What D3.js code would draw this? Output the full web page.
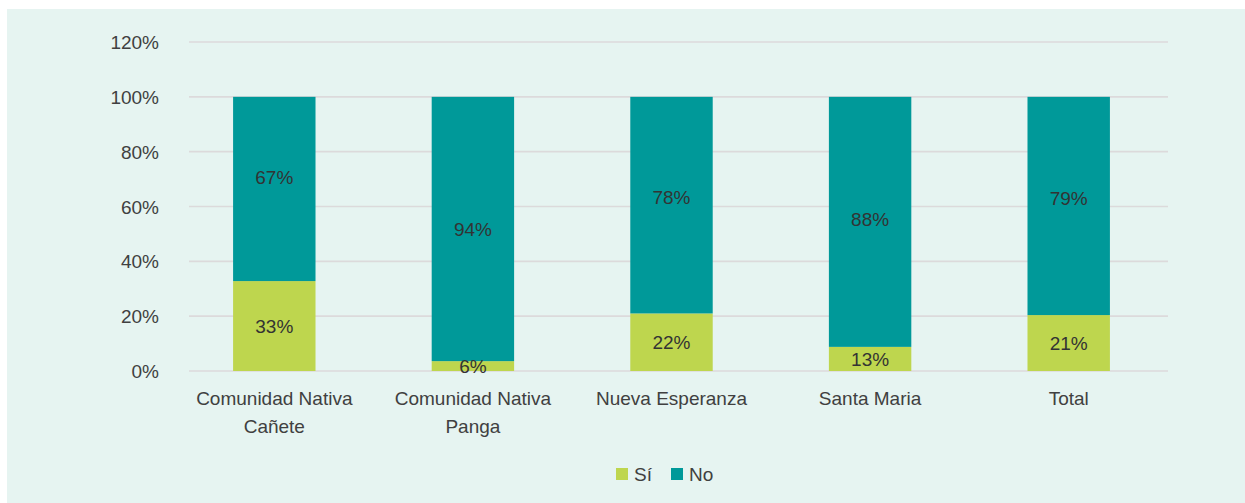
<!DOCTYPE html>
<html>
<head>
<meta charset="utf-8">
<script src="https://cdn.jsdelivr.net/npm/d3@7"></script>
<style>
  html, body { margin: 0; padding: 0; background: #ffffff; }
  svg { display: block; }
  text { font-family: "Liberation Sans", Arial, sans-serif; }
</style>
</head>
<body>
<svg id="chart" width="1245" height="503"></svg>
<script>
// ---- data ----
const categories = [["Comunidad Nativa", "Cañete"], ["Comunidad Nativa", "Panga"], ["Nueva Esperanza"], ["Santa Maria"], ["Total"]];
const siValues = [32.8, 3.6, 21.0, 8.8, 20.4];        // drawn height of "Sí" segment (%)
const noValues = [67.2, 96.4, 79.0, 91.2, 79.6];      // drawn height of "No" segment (%)
const siLabels = ["33%", "6%", "22%", "13%", "21%"];
const noLabels = ["67%", "94%", "78%", "88%", "79%"];
const noLabelAt = [70.5, 51.8, 63.4, 55.4, 63.1];     // where the "No" labels sit (%)
const yTicks = [0, 20, 40, 60, 80, 100, 120];
const tickLabels = ["0%", "20%", "40%", "60%", "80%", "100%", "120%"];
const seriesNames = ["Sí", "No"];
const colors = ["#bed64e", "#009999"];

const svg = d3.select("#chart");
svg.append("rect").attr("x", 7).attr("y", 9).attr("width", 1238).attr("height", 494).attr("fill", "#e6f4f1");

const y = d3.scaleLinear().domain([0, 120]).range([371, 42]);
const x = d3.scaleBand().domain(d3.range(categories.length)).range([175, 1168]).paddingInner(0.585).paddingOuter(0.2925);

// gridlines
svg.append("g").selectAll("line").data(yTicks).join("line")
  .attr("x1", 189).attr("x2", 1168)
  .attr("y1", d => y(d)).attr("y2", d => y(d))
  .attr("stroke", "#dcdadb").attr("stroke-width", 1.6);

// y axis labels
const yAxis = d3.axisLeft(y).tickValues(yTicks).tickFormat((d, i) => tickLabels[i]).tickSize(0).tickPadding(0);
const gy = svg.append("g").attr("transform", "translate(159,0)").call(yAxis);
gy.select(".domain").remove();
gy.selectAll("text").attr("font-size", 19).attr("fill", "#404040")
  .attr("font-family", "'Liberation Sans', Arial, sans-serif").attr("dy", "0.35em");

// bars
const g = svg.append("g");
categories.forEach((c, i) => {
  const x0 = x(i), w = x.bandwidth();
  g.append("rect").attr("x", x0).attr("width", w)
    .attr("y", y(siValues[i])).attr("height", y(0) - y(siValues[i])).attr("fill", colors[0]);
  g.append("rect").attr("x", x0).attr("width", w)
    .attr("y", y(siValues[i] + noValues[i])).attr("height", y(siValues[i]) - y(siValues[i] + noValues[i])).attr("fill", colors[1]);
  g.append("text").attr("x", x0 + w / 2).attr("y", y(siValues[i] / 2)).attr("dy", "0.35em")
    .attr("text-anchor", "middle").attr("font-size", 19).attr("fill", "#333333").text(siLabels[i]);
  g.append("text").attr("x", x0 + w / 2).attr("y", y(noLabelAt[i])).attr("dy", "0.35em")
    .attr("text-anchor", "middle").attr("font-size", 19).attr("fill", "#333333").text(noLabels[i]);
  // category labels
  const t = g.append("text").attr("text-anchor", "middle").attr("font-size", 19).attr("fill", "#404040");
  c.forEach((line, k) => {
    t.append("tspan").attr("x", x0 + w / 2).attr("y", 398 + k * 28).attr("dy", "0.35em").text(line);
  });
});

// legend
const legendX = [616, 671];
seriesNames.forEach((s, i) => {
  svg.append("rect").attr("x", legendX[i]).attr("y", 468).attr("width", 12).attr("height", 12).attr("fill", colors[i]);
  svg.append("text").attr("x", legendX[i] + 18).attr("y", 474).attr("dy", "0.35em")
    .attr("font-size", 19).attr("fill", "#404040").text(s);
});
</script>
</body>
</html>
